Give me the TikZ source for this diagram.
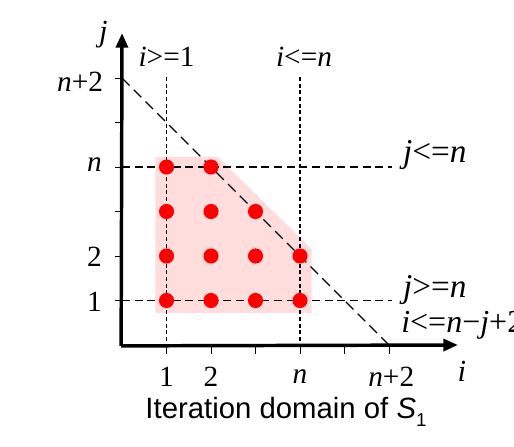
\documentclass[tikz,border=0pt]{standalone}
\usepackage{fontspec}
\setmainfont{Liberation Serif}
\setsansfont{Liberation Sans}
\usetikzlibrary{arrows.meta}
\definecolor{pinkfill}{RGB}{255,221,221}
\definecolor{dotred}{RGB}{255,0,0}
\tikzset{
  axis/.style={line width=2.6pt,-{Triangle[length=11pt,width=9pt]}},
  tickline/.style={line width=0.7pt},
  hdash/.style={line width=1.3pt,dash pattern=on 6pt off 3.5pt},
  vdot/.style={line width=1.0pt,dash pattern=on 3pt off 2pt},
  vdotb/.style={line width=1.6pt,dash pattern=on 3pt off 2pt},
  ddash/.style={line width=1.0pt,dash pattern=on 8pt off 4.5pt},
  pt/.style={circle,fill=dotred,inner sep=0pt,minimum size=0.34*33.375pt},
  lbl/.style={font=\fontsize{22}{26}\selectfont,inner sep=0pt},
  rlbl/.style={font=\fontsize{25}{29}\selectfont,inner sep=0pt,anchor=west},
  axlbl/.style={font=\fontsize{23}{26}\selectfont,inner sep=0pt},
  ttl/.style={font=\sffamily\fontsize{22}{26}\selectfont,inner sep=0pt}
}
\begin{document}
\begin{tikzpicture}[x=33.375pt,y=33.375pt]
\useasboundingbox (-2.742,-2.270) rectangle (8.809,7.753);
% shaded region
\fill[pinkfill] (0.75,0.72) -- (4.26,0.72) -- (4.26,2.16) -- (2.16,4.22) -- (0.75,4.22) -- cycle;
% coordinates
\coordinate (xend) at (7.55,0);
\coordinate (yend) at (0,7.01);
\coordinate (v1t) at (1,6.02);
\coordinate (v1b) at (1,0);
\coordinate (vnt) at (4,6.02);
\coordinate (vnb) at (4,0);
\coordinate (hnl) at (0,4);
\coordinate (hnr) at (6.07,4);
\coordinate (h1l) at (0,1);
\coordinate (h1r) at (6.07,1);
\coordinate (dt) at (0,6);
\coordinate (db) at (6,0);
% constraint lines
\draw[vdot] (v1t) -- (v1b);
\draw[vdotb] (vnt) -- (vnb);
\draw[hdash] (hnl) -- (hnr);
\draw[hdash] (h1l) -- (h1r);
\draw[ddash] (dt) -- (db);
% points
\foreach \i/\j in {1/1,2/1,3/1,4/1,1/2,2/2,3/2,4/2,1/3,2/3,3/3,1/4,2/4}
  \node[pt] (p\i\j) at (\i,\j) {};
% ticks
\foreach \k in {1,...,6} {
  \coordinate (xt\k) at (\k,-0.02);
  \coordinate (xb\k) at (\k,-0.2);
  \draw[tickline] (xt\k) -- (xb\k);
  \coordinate (yr\k) at (-0.02,\k);
  \coordinate (yl\k) at (-0.15,\k);
  \draw[tickline] (yr\k) -- (yl\k);
}
% axes
\coordinate (O) at (-0.02,-0.02);
\draw[axis] (O) -- (xend);
\draw[axis] (O) -- (yend);
% axis labels
\node[axlbl] (jl) at (-0.42,6.98) {\textit{j}};
\node[axlbl] (il) at (7.64,-0.6) {\textit{i}};
% tick labels
\node[lbl] (x1) at (1,-0.72) {1};
\node[lbl] (x2) at (2,-0.72) {2};
\node[lbl] (xn) at (4,-0.72) {\textit{n}};
\node[lbl] (xn2) at (6.05,-0.72) {\textit{n}+2};
\node[lbl,anchor=east] (yn2) at (-0.42,5.92) {\textit{n}+2};
\node[lbl,anchor=east] (yn) at (-0.45,4.05) {\textit{n}};
\node[lbl,anchor=east] (y2) at (-0.45,1.98) {2};
\node[lbl,anchor=east] (y1) at (-0.45,0.98) {1};
% constraint labels
\node[lbl] (c1) at (1,6.47) {\textit{i}>=1};
\node[lbl] (c2) at (4.09,6.47) {\textit{i}<=\textit{n}};
\node[rlbl] (c3) at (6.31,4.27) {\textit{j}<=\textit{n}};
\node[rlbl] (c4) at (6.31,1.24) {\textit{j}>=\textit{n}};
\node[rlbl,font=\fontsize{24}{28}\selectfont] (c5) at (6.27,0.45) {\textit{i}<=\textit{n}\char"2212\textit{j}+2};
% title
\node[ttl] (title) at (3.685,-1.506) {Iteration domain of \textit{S}\raisebox{-0.25em}{\fontsize{14}{16}\selectfont 1}};
\end{tikzpicture}
\end{document}
